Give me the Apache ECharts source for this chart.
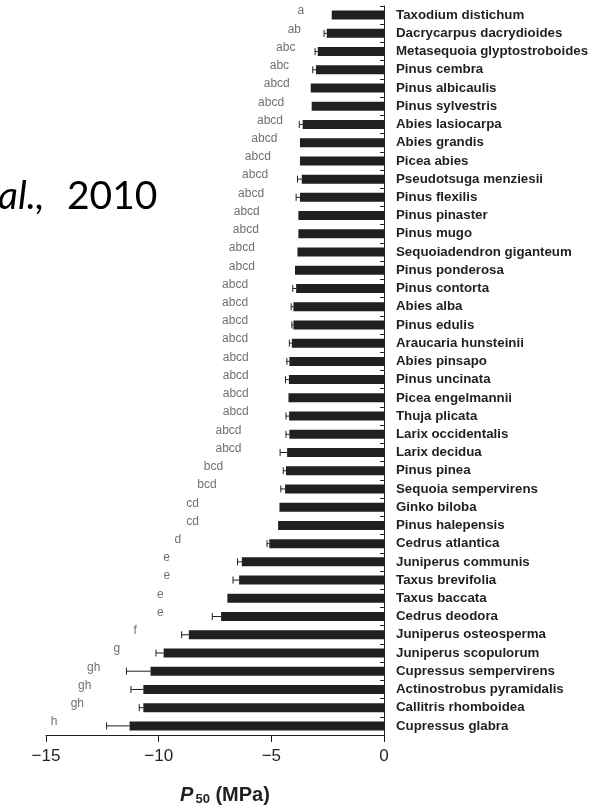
<!DOCTYPE html>
<html>
<head>
<meta charset="utf-8">
<script src="https://cdn.jsdelivr.net/npm/echarts@6/dist/echarts.min.js"></script>
<style>
html,body{margin:0;padding:0;background:#fff;}
#chart{width:599px;height:811px;}
</style>
</head>
<body>
<div id="chart"></div>
<script>
// Species (top to bottom)
var species = [
  'Taxodium distichum','Dacrycarpus dacrydioides','Metasequoia glyptostroboides','Pinus cembra',
  'Pinus albicaulis','Pinus sylvestris','Abies lasiocarpa','Abies grandis','Picea abies',
  'Pseudotsuga menziesii','Pinus flexilis','Pinus pinaster','Pinus mugo','Sequoiadendron giganteum',
  'Pinus ponderosa','Pinus contorta','Abies alba','Pinus edulis','Araucaria hunsteinii',
  'Abies pinsapo','Pinus uncinata','Picea engelmannii','Thuja plicata','Larix occidentalis',
  'Larix decidua','Pinus pinea','Sequoia sempervirens','Ginko biloba','Pinus halepensis',
  'Cedrus atlantica','Juniperus communis','Taxus brevifolia','Taxus baccata','Cedrus deodora',
  'Juniperus osteosperma','Juniperus scopulorum','Cupressus sempervirens','Actinostrobus pyramidalis',
  'Callitris rhomboidea','Cupressus glabra'
];
// Mean P50 (MPa)
var p50 = [
  -2.32,-2.54,-2.94,-3.02,-3.25,-3.21,-3.61,-3.73,-3.73,-3.65,
  -3.73,-3.80,-3.80,-3.84,-3.95,-3.90,-4.02,-4.02,-4.09,-4.20,
  -4.22,-4.24,-4.21,-4.20,-4.30,-4.35,-4.39,-4.64,-4.70,-5.09,
  -6.31,-6.43,-6.95,-7.23,-8.66,-9.78,-10.36,-10.68,-10.68,-11.29
];
// Lower end of the error bar (MPa); equal to mean when no bar is visible
var p50Err = [
  -2.32,-2.66,-3.06,-3.16,-3.25,-3.21,-3.76,-3.73,-3.73,-3.84,
  -3.90,-3.80,-3.80,-3.84,-3.95,-4.05,-4.12,-4.09,-4.20,-4.31,
  -4.37,-4.24,-4.35,-4.35,-4.61,-4.47,-4.58,-4.64,-4.70,-5.19,
  -6.50,-6.70,-6.95,-7.62,-8.98,-10.12,-11.43,-11.23,-10.86,-12.31
];
// Significance group letters
var groups = [
  'a','ab','abc','abc','abcd','abcd','abcd','abcd','abcd','abcd',
  'abcd','abcd','abcd','abcd','abcd','abcd','abcd','abcd','abcd','abcd',
  'abcd','abcd','abcd','abcd','abcd','bcd','bcd','cd','cd','d',
  'e','e','e','e','f','g','gh','gh','gh','h'
];
// Where each letter sits along the P50 axis (MPa)
var groupAt = [
  -3.69,-3.98,-4.36,-4.64,-4.76,-5.01,-5.06,-5.31,-5.60,-5.72,
  -5.90,-6.09,-6.13,-6.31,-6.31,-6.61,-6.61,-6.61,-6.61,-6.58,
  -6.58,-6.58,-6.58,-6.90,-6.90,-7.57,-7.86,-8.50,-8.50,-9.15,
  -9.65,-9.64,-9.93,-9.93,-11.04,-11.86,-12.88,-13.28,-13.61,-14.64
];
var xTicks = [-15, -10, -5, 0];

var dark = '#231f20';
var chart = echarts.init(document.getElementById('chart'), null, {renderer: 'canvas'});

var errData = p50.map(function (v, i) { return [v, p50Err[i], i]; });
var letterData = groupAt.map(function (v, i) { return [v, i, groups[i]]; });

chart.setOption({
  animation: false,
  backgroundColor: '#ffffff',
  textStyle: {fontFamily: 'Liberation Sans, Arial, sans-serif'},
  grid: {left: 46, right: 215, top: 6, height: 729, containLabel: false, outerBoundsMode: 'none'},
  xAxis: {
    type: 'value', min: -15, max: 0, interval: 5,
    axisLine: {show: true, lineStyle: {color: dark, width: 1}},
    axisTick: {show: true, length: 7, lineStyle: {color: dark, width: 1}},
    axisLabel: {
      color: dark, fontSize: 17, margin: 13,
      formatter: function (v) { return xTicks.indexOf(v) >= 0 ? String(v).replace('-', '\u2212') : ''; }
    },
    splitLine: {show: false},
    name: '{p|P}{s|50}{b| (MPa)}',
    nameLocation: 'middle', nameGap: 49,
    nameTextStyle: {
      padding: [0, 0, 0, 20],
      rich: {
        p: {fontSize: 20, fontWeight: 'bold', fontStyle: 'italic', color: dark},
        s: {fontSize: 13, fontWeight: 'bold', color: dark, padding: [9, 0, 0, 2]},
        b: {fontSize: 20, fontWeight: 'bold', color: dark}
      }
    }
  },
  yAxis: {
    type: 'category', data: species, inverse: true, position: 'right',
    axisLine: {show: true, lineStyle: {color: dark, width: 1}},
    axisTick: {show: true, inside: true, length: 4, lineStyle: {color: dark, width: 1}},
    axisLabel: {color: dark, fontSize: 13.3, fontWeight: 'bold', margin: 12, align: 'left'},
    splitLine: {show: false}
  },
  series: [
    {
      type: 'bar', data: p50, barWidth: 9,
      itemStyle: {color: dark}, silent: true, z: 2
    },
    {
      type: 'custom', data: errData, z: 3, silent: true,
      encode: {x: [0, 1], y: 2},
      renderItem: function (params, api) {
        var m = api.value(0), e = api.value(1), i = api.value(2);
        if (Math.abs(m - e) < 1e-9) return null;
        var a = api.coord([m, i]);
        var b = api.coord([e, i]);
        var st = {stroke: dark, lineWidth: 1};
        return {
          type: 'group',
          children: [
            {type: 'line', shape: {x1: a[0], y1: a[1], x2: b[0], y2: b[1]}, style: st},
            {type: 'line', shape: {x1: b[0], y1: b[1] - 3.5, x2: b[0], y2: b[1] + 3.5}, style: st}
          ]
        };
      }
    },
    {
      type: 'scatter', data: letterData, symbolSize: 0, silent: true, z: 4,
      encode: {x: 0, y: 1},
      label: {
        show: true, position: 'inside', offset: [0, -4],
        formatter: function (p) { return p.value[2]; },
        color: '#4a4a55', fontSize: 12
      }
    }
  ],
  graphic: [
    {type: 'text', left: -2, top: 177, style: {text: 'al.,', font: 'italic 39px Lato', fill: '#000'}},
    {type: 'text', left: 67, top: 177, style: {text: '2010', font: '39px Lato', fill: '#000'}}
  ]
});
</script>
</body>
</html>
